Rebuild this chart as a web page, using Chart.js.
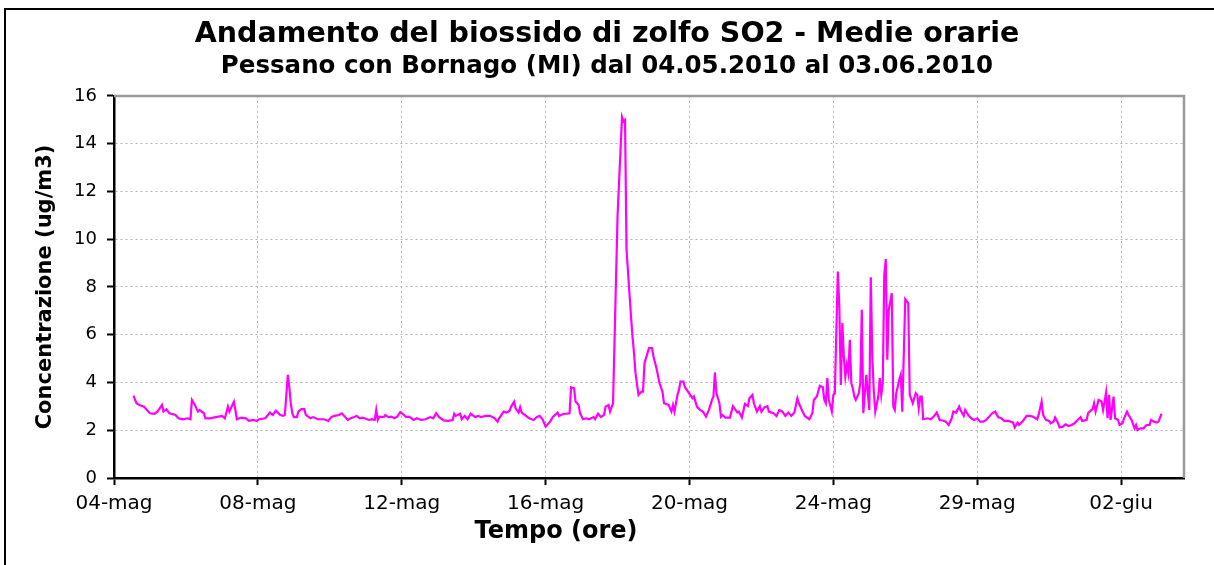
<!DOCTYPE html>
<html lang="it">
<head>
<meta charset="utf-8">
<title>Biossido di zolfo SO2 - Medie orarie</title>
<script src="https://cdn.jsdelivr.net/npm/chart.js@4.4.1/dist/chart.umd.min.js"></script>
<style>
  html, body { margin: 0; padding: 0; background: #fff; }
  #box { width: 1214px; height: 565px; }
</style>
</head>
<body>
<div id="box"><canvas id="grafico" width="1214" height="565"></canvas></div>
<script>
// ore dall'inizio della scala (04-mag 00:00)
var ore = [
  13, 15, 17, 20, 22, 24, 27, 29, 32, 33, 35, 37, 41, 43, 46, 49, 51, 52, 54, 56,
  57, 60, 61, 64, 68, 72, 74, 76, 77, 80, 81, 82, 85, 88, 90, 93, 95, 97, 101, 104,
  106, 108, 111, 113, 114, 116, 117, 118, 119, 120, 122, 123, 125, 127, 128, 131, 133, 136, 140, 143,
  145, 147, 150, 152, 154, 156, 158, 162, 164, 166, 170, 172, 174, 175, 176, 177, 180, 181, 183, 185,
  187, 189, 191, 193, 195, 197, 200, 202, 205, 208, 211, 213, 215, 217, 220, 223, 226, 227, 228, 231,
  232, 234, 236, 238, 241, 243, 245, 248, 251, 252, 254, 256, 257, 260, 262, 264, 265, 267, 268, 270,
  271, 272, 275, 277, 280, 282, 284, 286, 288, 291, 293, 296, 297, 300, 302, 304, 305, 307, 308, 310,
  311, 313, 315, 317, 320, 321, 323, 325, 327, 328, 330, 331, 333, 336, 337, 339, 340, 341, 342, 345,
  346, 347, 348, 350, 352, 353, 354, 356, 357, 359, 360, 362, 364, 366, 367, 370, 372, 373, 374, 376,
  377, 378, 380, 381, 383, 386, 387, 389, 391, 393, 395, 397, 399, 400, 401, 402, 404, 405, 406, 408,
  411, 413, 414, 416, 417, 419, 421, 423, 424, 426, 427, 429, 431, 432, 434, 436, 437, 440, 442, 444,
  446, 448, 450, 452, 454, 456, 457, 459, 461, 464, 466, 467, 469, 471, 473, 474, 475, 476, 477, 479,
  480, 481, 483, 484, 485, 486, 487, 488, 489, 490, 491, 492, 493, 494, 495, 497, 498, 499, 500, 502,
  504, 505, 506, 507, 508, 510, 511, 512, 513, 514, 515, 516, 517, 518, 519, 520, 521, 522, 524, 525,
  526, 528, 530, 531, 533, 535, 536, 537, 538, 539, 540, 543, 545, 547, 549, 551, 553, 555, 557, 559,
  560, 562, 564, 565, 567, 568, 570, 572, 574, 576, 578, 580, 582, 584, 586, 588, 590, 592, 594, 597,
  600, 601, 603, 604, 607, 609, 611, 613, 616, 617, 619, 620, 622, 624, 625, 627, 628, 630, 631, 633,
  635, 637, 639, 641, 643, 645, 646, 649, 650, 651, 653, 654, 655, 657, 659, 660, 661, 662, 663, 664,
  665, 667, 668, 670, 671, 673, 674, 676, 677, 679, 681, 682, 683, 685, 687, 689, 691, 692, 694, 696,
  697, 699
];

// SO2, medie orarie in ug/m3
var so2 = [
  3.45, 3.13, 3.06, 2.99, 2.85, 2.71, 2.69, 2.78, 3.06, 2.78, 2.88, 2.71, 2.64, 2.50, 2.46, 2.50, 2.46, 3.27, 3.06, 2.78,
  2.85, 2.71, 2.50, 2.50, 2.55, 2.60, 2.50, 2.99, 2.78, 3.20, 2.85, 2.46, 2.53, 2.50, 2.39, 2.43, 2.39, 2.46, 2.50, 2.74,
  2.64, 2.82, 2.64, 2.60, 2.64, 4.32, 3.80, 3.10, 2.70, 2.55, 2.55, 2.78, 2.88, 2.88, 2.64, 2.50, 2.55, 2.46, 2.46, 2.39,
  2.55, 2.60, 2.64, 2.71, 2.57, 2.43, 2.50, 2.60, 2.50, 2.53, 2.43, 2.46, 2.43, 2.85, 2.43, 2.57, 2.55, 2.64, 2.55, 2.57,
  2.50, 2.57, 2.76, 2.67, 2.55, 2.57, 2.43, 2.50, 2.43, 2.46, 2.55, 2.50, 2.71, 2.55, 2.41, 2.39, 2.43, 2.69, 2.60, 2.69,
  2.46, 2.60, 2.46, 2.69, 2.55, 2.60, 2.55, 2.60, 2.60, 2.57, 2.50, 2.36, 2.50, 2.78, 2.74, 2.82, 2.99, 3.20, 2.92, 2.74,
  2.96, 2.74, 2.60, 2.50, 2.43, 2.55, 2.60, 2.46, 2.15, 2.36, 2.57, 2.74, 2.60, 2.69, 2.69, 2.71, 3.80, 3.76, 3.20, 3.06,
  2.71, 2.46, 2.50, 2.46, 2.55, 2.46, 2.69, 2.55, 2.64, 2.99, 3.06, 2.78, 3.13, 10.96, 12.36, 15.12, 14.94, 15.00, 9.56, 6.76,
  5.92, 5.23, 4.39, 3.48, 3.62, 3.62, 4.81, 5.23, 5.44, 5.44, 5.09, 4.60, 3.97, 3.62, 3.13, 3.06, 2.78, 3.06, 2.78, 3.48,
  3.69, 4.04, 4.04, 3.80, 3.62, 3.34, 3.41, 2.99, 2.85, 2.78, 2.57, 2.85, 3.27, 3.41, 4.42, 3.55, 3.13, 2.57, 2.64, 2.53,
  2.53, 3.01, 2.92, 2.74, 2.78, 2.53, 3.10, 3.01, 3.34, 3.48, 3.13, 2.78, 3.01, 2.78, 2.96, 3.01, 2.78, 2.71, 2.60, 2.85,
  2.78, 2.60, 2.74, 2.60, 2.74, 3.34, 3.13, 2.85, 2.60, 2.46, 2.71, 3.27, 3.41, 3.86, 3.80, 3.27, 3.13, 4.18, 3.27, 2.78,
  3.48, 3.55, 8.65, 7.18, 3.90, 6.49, 5.09, 4.25, 4.74, 4.39, 5.79, 3.97, 3.76, 3.41, 3.27, 3.55, 3.97, 7.04, 2.71, 4.32,
  2.85, 8.41, 5.09, 3.62, 2.78, 3.41, 4.18, 3.48, 3.97, 8.51, 9.17, 4.95, 7.04, 7.39, 7.74, 2.99, 2.85, 3.55, 4.11, 4.32,
  2.78, 7.49, 7.32, 3.48, 3.13, 3.55, 3.48, 2.92, 3.41, 3.41, 2.46, 2.50, 2.46, 2.57, 2.74, 2.43, 2.41, 2.36, 2.22, 2.50,
  2.78, 2.74, 2.99, 2.82, 2.60, 2.85, 2.64, 2.50, 2.43, 2.50, 2.36, 2.36, 2.43, 2.57, 2.71, 2.78, 2.55, 2.50, 2.39, 2.39,
  2.32, 2.12, 2.32, 2.22, 2.43, 2.60, 2.60, 2.57, 2.46, 2.64, 3.20, 2.64, 2.43, 2.39, 2.29, 2.36, 2.53, 2.29, 2.12, 2.15,
  2.25, 2.18, 2.22, 2.29, 2.43, 2.55, 2.39, 2.43, 2.71, 2.78, 2.88, 3.13, 2.78, 3.27, 3.20, 2.85, 3.20, 3.58, 2.50, 3.48,
  2.43, 3.41, 2.50, 2.43, 2.22, 2.29, 2.50, 2.78, 2.64, 2.43, 2.08, 2.22, 2.01, 2.08, 2.08, 2.22, 2.22, 2.43, 2.36, 2.32,
  2.36, 2.69
];

// etichette dell'asse dei tempi, una ogni 96 ore
var etichette = ['04-mag', '08-mag', '12-mag', '16-mag', '20-mag', '24-mag', '29-mag', '02-giu'];
var passoEtichette = 96;
var fineScala = 714;

var griglia = { color: '#b4b4b4', lineWidth: 1, tickColor: '#000', tickLength: 7, tickWidth: 2 };
var bordoAsse = { color: '#000', width: 2.5, dash: [2, 3] };

// cornice esterna, bordo dell'area del grafico e titolo dell'asse x
var cornice = {
  id: 'cornice',
  beforeDraw: function(chart) {
    var ctx = chart.ctx;
    ctx.save();
    ctx.fillStyle = '#fff';
    ctx.fillRect(0, 0, chart.width, chart.height);
    ctx.restore();
  },
  beforeDatasetsDraw: function(chart) {
    var ctx = chart.ctx, a = chart.chartArea;
    ctx.save();
    ctx.strokeStyle = '#999';
    ctx.lineWidth = 2.5;
    ctx.beginPath();
    ctx.moveTo(a.left, a.top);
    ctx.lineTo(a.right, a.top);
    ctx.lineTo(a.right, a.bottom);
    ctx.stroke();
    ctx.restore();
  },
  afterDraw: function(chart) {
    var ctx = chart.ctx;
    ctx.save();
    ctx.strokeStyle = '#000';
    ctx.lineWidth = 2;
    ctx.strokeRect(5, 9, 1240, 600);
    ctx.fillStyle = '#000';
    ctx.font = "bold 24px 'DejaVu Sans'";
    ctx.textAlign = 'center';
    ctx.textBaseline = 'middle';
    ctx.fillText('Tempo (ore)', 556, 532);
    ctx.restore();
  }
};

Chart.defaults.font.family = "'DejaVu Sans', Verdana, sans-serif";
Chart.defaults.color = '#000';

var punti = ore.map(function(h, i) { return { x: h, y: so2[i] }; });

new Chart(document.getElementById('grafico').getContext('2d'), {
  type: 'line',
  data: {
    datasets: [{
      label: 'SO2',
      data: punti,
      borderColor: '#ff00ff',
      borderWidth: 2.2,
      pointRadius: 0,
      tension: 0,
      fill: false
    }]
  },
  options: {
    responsive: false,
    animation: false,
    devicePixelRatio: 1,
    layout: { padding: { left: 30, right: 30, top: 0, bottom: 0 } },
    plugins: {
      legend: { display: false },
      tooltip: { enabled: false },
      title: {
        display: true,
        text: 'Andamento del biossido di zolfo SO2 - Medie orarie',
        font: { size: 28.5, weight: 'bold' },
        color: '#000',
        padding: { top: 17, bottom: 0 }
      },
      subtitle: {
        display: true,
        text: 'Pessano con Bornago (MI) dal 04.05.2010 al 03.06.2010',
        font: { size: 24.5, weight: 'bold' },
        color: '#000',
        padding: { top: 1, bottom: 14.3 }
      }
    },
    scales: {
      x: {
        type: 'linear',
        min: 0,
        max: fineScala,
        afterBuildTicks: function(scale) {
          scale.ticks = etichette.map(function(t, i) { return { value: i * passoEtichette }; });
        },
        afterFit: function(scale) { scale.height = 87; },
        ticks: {
          autoSkip: false,
          maxRotation: 0,
          padding: 7,
          font: { size: 20 },
          callback: function(v) { return etichette[Math.round(v / passoEtichette)]; }
        },
        grid: griglia,
        border: bordoAsse
      },
      y: {
        min: 0,
        max: 16,
        afterFit: function(scale) { scale.width = 84; },
        ticks: { stepSize: 2, padding: 10, font: { size: 18 } },
        grid: griglia,
        border: bordoAsse,
        title: {
          display: true,
          text: 'Concentrazione (ug/m3)',
          font: { size: 21, weight: 'bold' },
          color: '#000',
          padding: { top: 3, bottom: 0 }
        }
      }
    }
  },
  plugins: [cornice]
});
</script>
</body>
</html>
